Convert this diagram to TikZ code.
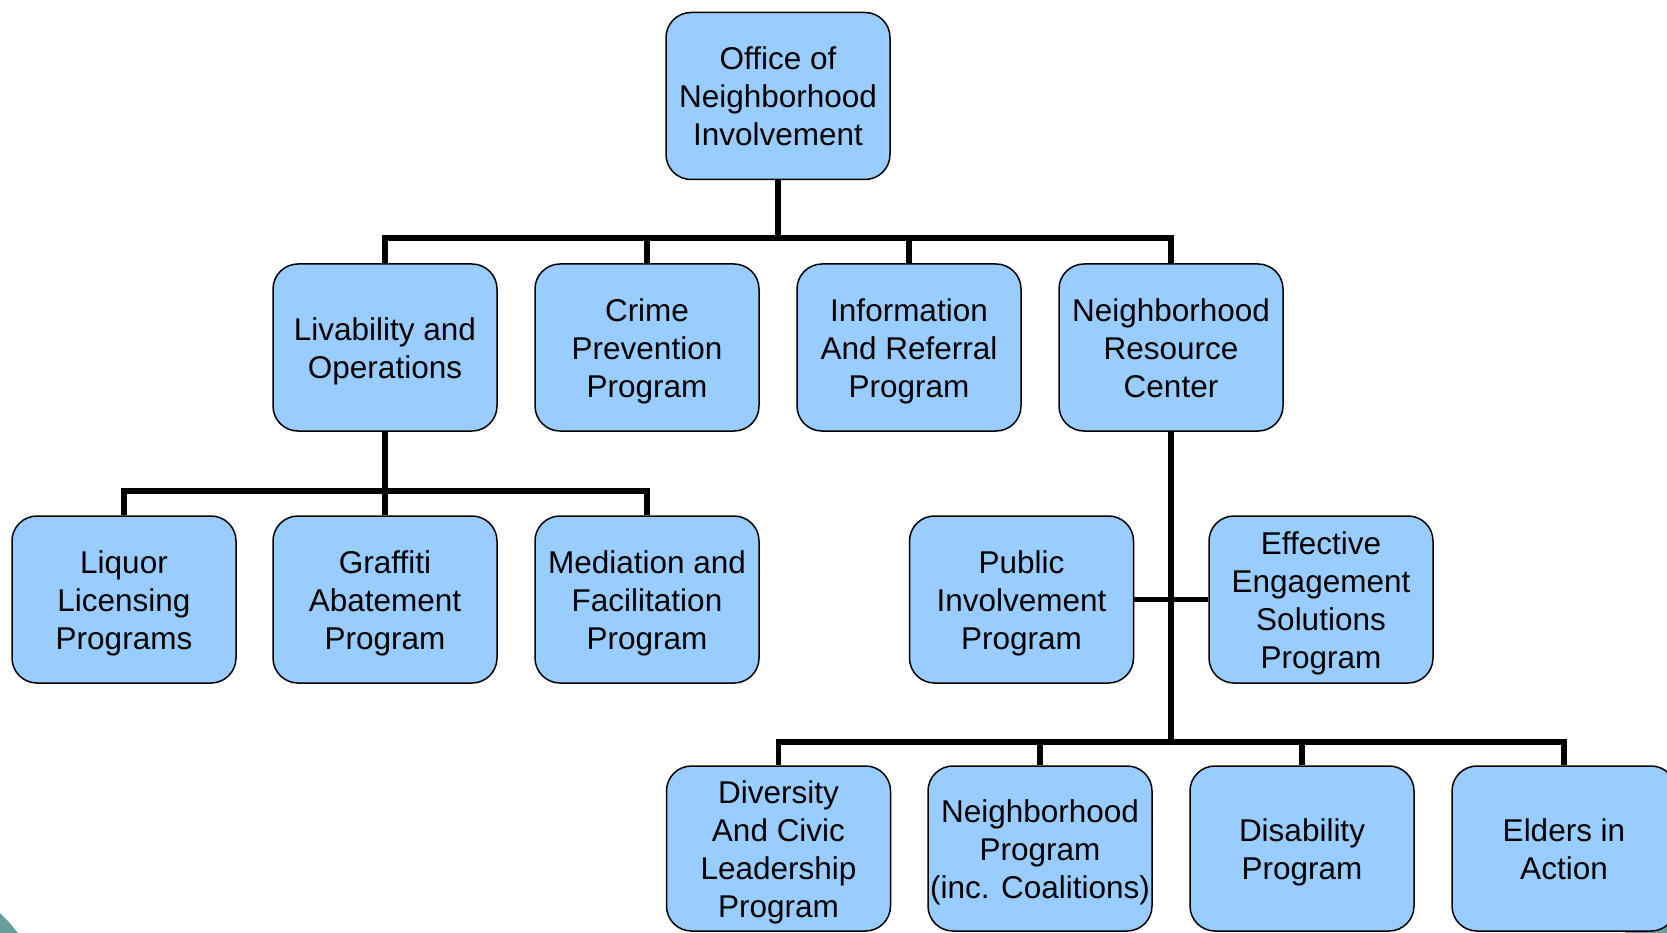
\documentclass[tikz,border=0pt]{standalone}
\usepackage{fontspec}
\usepackage{array}
\setmainfont{Liberation Sans}
\newcommand\boxtext[1]{{\renewcommand\arraystretch{0}%
  \begin{tabular}{@{}>{\rule[-7pt]{0pt}{38pt}}c@{}}#1\end{tabular}}}
\begin{document}
\begin{tikzpicture}[x=1pt,y=-1pt,
  box/.style={draw=black,line width=1.5pt,fill=boxblue,rounded corners=25pt,
    minimum width=224pt,minimum height=167pt,inner sep=0pt,
    font=\fontsize{31.5}{38}\selectfont},
  conn/.style={line width=5.5pt,draw=black}]
\definecolor{boxblue}{RGB}{153,204,255}
\definecolor{teal}{RGB}{102,158,158}
\useasboundingbox (0,0) rectangle (1667,933);
% slide decorations
\fill[teal] (0,913) -- (8,921) -- (18,933) -- (0,933) -- cycle;
\fill[teal] (1667,895) -- (1667,933) -- (1625,933) -- cycle;
% nodes
\node[box] (top) at (778,96) {\boxtext{Office of\\Neighborhood\\Involvement}};
\node[box] (lv) at (385,347.5) {\boxtext{Livability and\\Operations}};
\node[box] (cp) at (647,347.5) {\boxtext{Crime\\Prevention\\Program}};
\node[box] (ir) at (909,347.5) {\boxtext{Information\\And Referral\\Program}};
\node[box] (nrc) at (1171,347.5) {\boxtext{Neighborhood\\Resource\\Center}};
\node[box] (ll) at (124,599.5) {\boxtext{Liquor\\Licensing\\Programs}};
\node[box] (ga) at (385,599.5) {\boxtext{Graffiti\\Abatement\\Program}};
\node[box] (mf) at (647,599.5) {\boxtext{Mediation and\\Facilitation\\Program}};
\node[box] (pi) at (1021.5,599.5) {\boxtext{Public\\Involvement\\Program}};
\node[box] (ees) at (1321,599.5) {\boxtext{Effective\\Engagement\\Solutions\\Program}};
\node[box,minimum height=165pt] (dv) at (778.5,848.5) {\boxtext{Diversity\\And Civic\\Leadership\\Program}};
\node[box,minimum height=165pt] (np) at (1040,848.5) {\boxtext{Neighborhood\\Program\\(inc. Coalitions)}};
\node[box,minimum height=165pt] (dp) at (1302,848.5) {\boxtext{Disability\\Program}};
\node[box,minimum height=165pt] (ea) at (1564,848.5) {\boxtext{Elders in\\Action}};
% buses
\coordinate (bus1) at (0,238);
\coordinate (bus2) at (0,491);
\coordinate (bus3) at (0,742);
% connectors
\foreach \c in {lv,cp,ir,nrc}
  \draw[conn] (top.south) -- (top.south |- bus1) -| (\c.north);
\foreach \c in {ll,ga,mf}
  \draw[conn] (lv.south) -- (lv.south |- bus2) -| (\c.north);
\foreach \c in {dv,np,dp,ea}
  \draw[conn] (nrc.south) -- (nrc.south |- bus3) -| (\c.north);
\draw[conn] (pi.east) -- (ees.west);
\end{tikzpicture}
\end{document}
